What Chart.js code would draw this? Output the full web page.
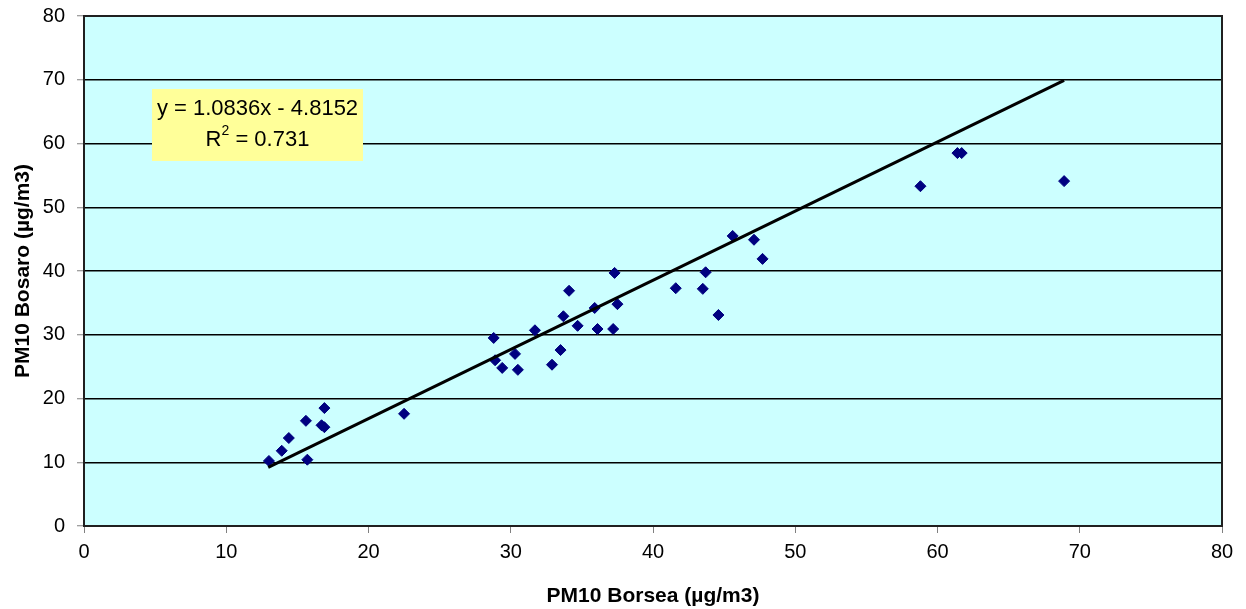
<!DOCTYPE html>
<html>
<head>
<meta charset="utf-8">
<script src="https://cdn.jsdelivr.net/npm/chart.js@4/dist/chart.umd.min.js"></script>
<style>
  html, body { margin: 0; padding: 0; background: #ffffff; }
  #wrap { width: 1246px; height: 609px; position: relative; }
</style>
</head>
<body>
<div id="wrap"><canvas id="c" width="1246" height="609"></canvas></div>
<script>
// PM10 Borsea (x) vs PM10 Bosaro (y), µg/m3
const borseaValues = [13.0, 13.9, 14.4, 15.6, 15.7, 16.7, 16.9, 16.9, 22.5, 28.8, 28.9, 29.4, 30.3, 30.5, 31.7, 32.9, 33.5, 33.7, 34.1, 34.7, 35.9, 36.1, 37.2, 37.3, 37.5, 41.6, 43.5, 43.7, 44.6, 45.6, 47.1, 47.7, 58.8, 61.4, 61.7, 68.9];
const bosaroValues = [10.2, 11.8, 13.8, 16.5, 10.4, 15.8, 15.5, 18.5, 17.6, 29.5, 26.0, 24.8, 27.0, 24.5, 30.7, 25.3, 27.6, 32.9, 36.9, 31.4, 34.2, 30.9, 30.9, 39.7, 34.8, 37.3, 37.2, 39.8, 33.1, 45.5, 44.9, 41.9, 53.3, 58.5, 58.5, 54.1];
// Linear trend line end points
const trendX = [12.95, 68.9];
const trendY = [9.2, 69.9];
const xTicks = [0, 10, 20, 30, 40, 50, 60, 70, 80];
const yTicks = [0, 10, 20, 30, 40, 50, 60, 70, 80];
const equationText = "y = 1.0836x - 4.8152";
const r2Label = "R";
const r2Value = " = 0.731";
const xTitle = "PM10 Borsea (\u00b5g/m3)";
const yTitle = "PM10 Bosaro (\u00b5g/m3)";

const points = borseaValues.map((x, i) => ({ x: x, y: bosaroValues[i] }));
const trend = trendX.map((x, i) => ({ x: x, y: trendY[i] }));

const FONT = "'Liberation Sans', Arial, sans-serif";

const plotDecor = {
  id: 'plotDecor',
  beforeDraw(chart) {
    const { ctx, chartArea: a } = chart;
    ctx.save();
    ctx.fillStyle = '#CCFFFF';
    ctx.fillRect(a.left, a.top, a.right - a.left, a.bottom - a.top);
    ctx.restore();
  },
  afterDatasetsDraw(chart) {
    const { ctx, chartArea: a } = chart;
    ctx.save();
    // border around plot area
    ctx.strokeStyle = '#202020';
    ctx.lineWidth = 2;
    ctx.strokeRect(a.left, a.top, a.right - a.left, a.bottom - a.top);
    // equation box
    const bx = a.left + 68, by = a.top + 73, bw = 211, bh = 72;
    ctx.fillStyle = '#FFFF99';
    ctx.fillRect(bx, by, bw, bh);
    ctx.fillStyle = '#000000';
    ctx.font = '22px ' + FONT;
    ctx.textBaseline = 'middle';
    ctx.textAlign = 'center';
    const cx = bx + bw / 2;
    ctx.fillText(equationText, cx, by + 20);
    // R^2 line
    const w1 = ctx.measureText(r2Label).width;
    ctx.font = '14px ' + FONT;
    const w2 = ctx.measureText('2').width;
    ctx.font = '22px ' + FONT;
    const w3 = ctx.measureText(r2Value).width;
    let sx = cx - (w1 + w2 + w3) / 2;
    const ly = by + 51;
    ctx.textAlign = 'left';
    ctx.fillText(r2Label, sx, ly);
    sx += w1;
    ctx.font = '14px ' + FONT;
    ctx.fillText('2', sx, ly - 9);
    sx += w2;
    ctx.font = '22px ' + FONT;
    ctx.fillText(r2Value, sx, ly);
    ctx.restore();
  }
};

new Chart(document.getElementById('c'), {
  type: 'scatter',
  data: {
    datasets: [
      {
        type: 'scatter',
        data: points,
        pointStyle: 'rectRot',
        pointRadius: 5.5,
        pointHoverRadius: 5.5,
        backgroundColor: '#000080',
        borderColor: '#000080',
        borderWidth: 1,
        order: 2
      },
      {
        type: 'line',
        data: trend,
        borderColor: '#000000',
        borderWidth: 3,
        pointRadius: 0,
        fill: false,
        tension: 0,
        order: 1
      }
    ]
  },
  options: {
    responsive: false,
    animation: false,
    devicePixelRatio: 1,
    layout: { padding: { top: 16, right: 24, bottom: 0, left: 0 } },
    plugins: {
      legend: { display: false },
      tooltip: { enabled: false },
      title: { display: false }
    },
    scales: {
      x: {
        type: 'linear',
        min: 0, max: 80,
        afterBuildTicks(scale) { scale.ticks = xTicks.map(v => ({ value: v })); },
        afterFit(scale) { scale.height = 83; scale.paddingLeft = 0; scale.paddingRight = 0; },
        grid: {
          display: true,
          drawOnChartArea: false,
          drawTicks: true,
          tickLength: 7,
          tickColor: '#808080',
          tickWidth: 1
        },
        border: { display: false },
        ticks: {
          color: '#000000',
          font: { family: FONT, size: 20 },
          padding: 7,
          maxRotation: 0,
          callback: v => String(v)
        },
        title: {
          display: true,
          text: xTitle,
          color: '#000000',
          font: { family: FONT, size: 21, weight: 'bold' },
          padding: { top: 0, bottom: 0 }
        }
      },
      y: {
        type: 'linear',
        min: 0, max: 80,
        afterBuildTicks(scale) { scale.ticks = yTicks.map(v => ({ value: v })); },
        afterFit(scale) { scale.width = 84; scale.paddingTop = 0; scale.paddingBottom = 0; },
        grid: {
          display: true,
          drawOnChartArea: true,
          drawTicks: true,
          tickLength: 7,
          color: '#000000',
          lineWidth: 1.5,
          tickColor: '#808080',
          tickWidth: 1
        },
        border: { display: false },
        ticks: {
          color: '#000000',
          font: { family: FONT, size: 20 },
          padding: 12,
          callback: v => String(v)
        },
        title: {
          display: true,
          text: yTitle,
          color: '#000000',
          font: { family: FONT, size: 21, weight: 'bold' },
          padding: { top: 11, bottom: 0 }
        }
      }
    }
  },
  plugins: [plotDecor]
});
</script>
</body>
</html>
